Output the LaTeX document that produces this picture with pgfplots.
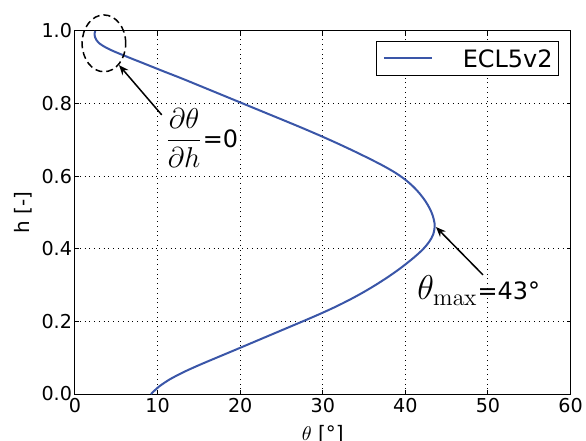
\documentclass[border=0pt]{standalone}
\usepackage[no-math]{fontspec}
\setmainfont{DejaVu Sans}
\usepackage{pgfplots}
\pgfplotsset{compat=1.18}
\usetikzlibrary{arrows.meta}
\definecolor{curveblue}{HTML}{3A56A8}

\begin{document}
\begin{tikzpicture}
\useasboundingbox (-37.5bp,-23.5bp) rectangle (255.5bp,197bp);
\begin{axis}[
  scale only axis, width=247.8bp, height=181.5bp,
  xmin=0, xmax=60, ymin=0, ymax=1,
  xtick={0,10,...,60}, ytick={0,0.2,...,1.0},
  yticklabel style={/pgf/number format/fixed, /pgf/number format/fixed zerofill,
    /pgf/number format/precision=1, xshift=-1.3bp},
  /pgf/number format/assume math mode=true,
  tick label style={font=\fontsize{9.6}{11}\selectfont, inner sep=0pt},
  xticklabel style={yshift=-2bp},
  tick align=inside, major tick length=2bp,
  tick style={black, line width=0.5bp},
  axis line style={black, line width=0.5bp},
  grid=major, major grid style={dotted, black, line width=0.5bp},
  xlabel={$\theta$ [°]}, ylabel={h [-]},
  label style={font=\fontsize{10}{12}\selectfont, inner sep=0pt},
  xlabel style={at={(axis description cs:0.5,0)}, anchor=north, yshift=-15.5bp},
  ylabel style={at={(axis description cs:-0.105,0.5)}, anchor=center},
  legend style={at={(rel axis cs:1,1)}, anchor=north east, xshift=-5.8bp, yshift=-4.85bp,
    draw=black, line width=0.5bp, inner xsep=3bp, inner ysep=4.1bp,
    font=\fontsize{12}{14}\selectfont,
    nodes={inner sep=0pt, text depth=0pt},
    /tikz/every odd column/.append style={column sep=15bp}},
  legend image code/.code={
    \path (0bp,0bp) -- (24bp,0bp);
    \draw[#1] (5.5bp,0bp) -- (24bp,0bp);},
  clip=false,
]
% theta vs h
\addplot[curveblue, line width=1bp, smooth] coordinates {
  (9.20,0.000) (10.15,0.020) (11.45,0.040) (13.12,0.060) (15.06,0.080)
  (17.14,0.100) (19.24,0.120) (21.32,0.140) (23.40,0.160) (25.48,0.180)
  (27.56,0.200) (29.60,0.220) (31.52,0.240) (33.28,0.260) (34.89,0.280)
  (36.37,0.300) (37.74,0.320) (39.01,0.340) (40.17,0.360) (41.24,0.380)
  (42.18,0.400) (42.90,0.420) (43.37,0.440) (43.55,0.465) (43.33,0.490)
  (42.97,0.510) (42.46,0.530) (41.81,0.550) (41.01,0.570) (40.01,0.590)
  (38.75,0.610) (37.21,0.630) (35.49,0.650) (33.69,0.670) (31.81,0.690)
  (29.85,0.710) (27.81,0.730) (25.70,0.750) (23.56,0.770) (21.42,0.790)
  (19.28,0.810) (17.14,0.830) (15.00,0.850) (12.85,0.870) (10.60,0.890)
  (8.40,0.910) (6.20,0.930) (4.60,0.945) (3.70,0.955) (3.00,0.965)
  (2.60,0.975) (2.40,0.985) (2.37,0.993) (2.45,1.000)
};
\addlegendentry{ECL5v2}

\draw[black, line width=0.75bp, dash pattern=on 3.5bp off 2bp]
  (axis cs:3.5,0.966) ellipse [x radius=10.9bp, y radius=14.2bp];
\draw[-{Stealth[length=5bp,width=4bp]}, black, line width=0.75bp]
  (axis cs:10.5,0.769) -- (axis cs:5.33,0.906);
\draw[-{Stealth[length=5bp,width=4bp]}, black, line width=0.75bp]
  (axis cs:49.4,0.328) -- (axis cs:43.7,0.460);

\node[anchor=west, inner sep=0pt] at (axis cs:10.9,0.706)
  {\fontsize{14}{17}\selectfont$\displaystyle\frac{\partial\theta}{\partial h}$\fontsize{12}{14}\selectfont=0};
\node[anchor=base west, inner sep=0pt] at (axis cs:41.4,0.259)
  {\fontsize{17.5}{20}\selectfont$\theta_{\mathrm{max}}$\fontsize{12}{14}\selectfont=43°};
\end{axis}
\end{tikzpicture}
\end{document}
